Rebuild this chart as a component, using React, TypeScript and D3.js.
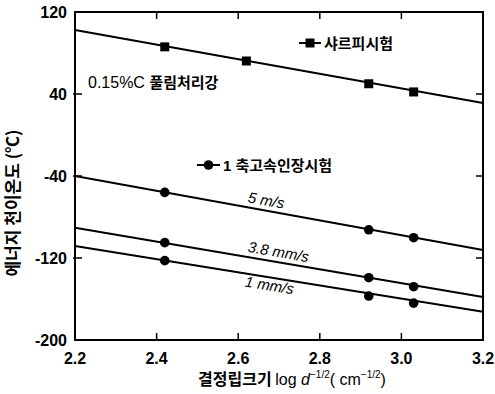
import React from "react";
import * as d3 from "d3";

const xTicks = [2.2, 2.4, 2.6, 2.8, 3.0, 3.2];
const yTicks = [120, 40, -40, -120, -200];
const lineX = [2.2, 3.2];

const charpyX = [2.42, 2.62, 2.92, 3.03];
const charpyY = [86, 72.2, 50, 42];
const charpyLine = [102.4, 31.2];

const tensileX = [2.42, 2.92, 3.03];
const v5Y = [-56, -92.5, -100.2];
const v5Line = [-40, -112.2];
const v38Y = [-105, -139.2, -148];
const v38Line = [-90.4, -158];
const v1Y = [-122.6, -157.1, -164];
const v1Line = [-108.3, -172.4];

const W = 495, H = 394;
const L = 75, R = 483, T = 12, B = 340;
const BOLD = "'Liberation Sans', Arial, sans-serif";
const KR = "'Noto Sans CJK KR', 'Liberation Sans', sans-serif";

export default function App() {
  const x = d3.scaleLinear().domain([2.2, 3.2]).range([L, R]);
  const y = d3.scaleLinear().domain([-200, 120]).range([B, T]);
  const line = d3.line<[number, number]>().x(d => x(d[0])).y(d => y(d[1]));
  const seg = (vals: number[]) => line(lineX.map((v, i) => [v, vals[i]] as [number, number])) || "";
  const ang = (vals: number[]) =>
    (Math.atan2(y(vals[1]) - y(vals[0]), x(lineX[1]) - x(lineX[0])) * 180) / Math.PI;

  const sw = 2;
  const labels: { text: string; vals: number[]; at: number; dy: number }[] = [
    { text: "5 m/s", vals: v5Line, at: 2.62, dy: -5 },
    { text: "3.8 mm/s", vals: v38Line, at: 2.62, dy: -5 },
    { text: "1 mm/s", vals: v1Line, at: 2.62, dy: 13 },
  ];

  return (
    <svg width={W} height={H} style={{ position: "absolute", left: 0, top: 0, background: "#fff" }}>
      <rect x={L} y={T} width={R - L} height={B - T} fill="none" stroke="#000" strokeWidth={2} />
      {xTicks.slice(1, -1).map(t => (
        <g key={"xt" + t}>
          <line x1={x(t)} x2={x(t)} y1={B} y2={B - 7} stroke="#000" strokeWidth={1.5} />
          <line x1={x(t)} x2={x(t)} y1={T} y2={T + 7} stroke="#000" strokeWidth={1.5} />
        </g>
      ))}
      {xTicks.map(t => (
        <text key={"xl" + t} x={x(t)} y={364} textAnchor="middle" fontFamily={BOLD} fontWeight="bold" fontSize={16}>
          {t.toFixed(1)}
        </text>
      ))}
      {yTicks.slice(1, -1).map(t => (
        <g key={"yt" + t}>
          <line x1={L - 2} x2={L + 7} y1={y(t)} y2={y(t)} stroke="#000" strokeWidth={1.5} />
          <line x1={R} x2={R - 7} y1={y(t)} y2={y(t)} stroke="#000" strokeWidth={1.5} />
        </g>
      ))}
      {yTicks.map(t => (
        <text key={"yl" + t} x={67} y={y(t) + 5.5} textAnchor="end" fontFamily={BOLD} fontWeight="bold" fontSize={16}>
          {t < 0 ? "-" + Math.abs(t) : String(t)}
        </text>
      ))}

      {[charpyLine, v5Line, v38Line, v1Line].map((vals, i) => (
        <path key={"ln" + i} d={seg(vals)} fill="none" stroke="#000" strokeWidth={sw} />
      ))}
      {charpyX.map((v, i) => (
        <rect key={"cm" + i} x={x(v) - 4.5} y={y(charpyY[i]) - 4.5} width={9} height={9} fill="#000" />
      ))}
      {[v5Y, v38Y, v1Y].map((arr, j) =>
        tensileX.map((v, i) => <circle key={"tm" + j + "-" + i} cx={x(v)} cy={y(arr[i])} r={4.8} fill="#000" />)
      )}

      {labels.map(lb => {
        const px = x(lb.at);
        const frac = (lb.at - lineX[0]) / (lineX[1] - lineX[0]);
        const py = y(lb.vals[0] + (lb.vals[1] - lb.vals[0]) * frac);
        return (
          <text
            key={lb.text}
            x={px}
            y={py + lb.dy}
            transform={`rotate(${ang(lb.vals)} ${px} ${py})`}
            fontFamily={BOLD}
            fontStyle="italic"
            fontSize={15}
          >
            {lb.text}
          </text>
        );
      })}

      <line x1={299} x2={321} y1={43} y2={43} stroke="#000" strokeWidth={sw} />
      <rect x={305.5} y={38.5} width={9} height={9} fill="#000" />
      <text x={324} y={48.5} fontFamily={KR} fontWeight="bold" fontSize={15}>샤르피시험</text>

      <line x1={197} x2={220} y1={165} y2={165} stroke="#000" strokeWidth={sw} />
      <circle cx={208.5} cy={165} r={4.8} fill="#000" />
      <text x={223} y={170.5} fontFamily={KR} fontWeight="bold" fontSize={15}>
        <tspan fontFamily={BOLD}>1 </tspan>축고속인장시험
      </text>

      <text x={88} y={88} fontFamily={KR} fontWeight="bold" fontSize={15}>
        <tspan fontFamily={BOLD} fontWeight="normal" fontSize={16}>0.15%C </tspan>풀림처리강
      </text>

      <text
        transform={`translate(19 ${203}) rotate(-90)`}
        textAnchor="middle"
        fontFamily={KR}
        fontWeight="bold"
        fontSize={17}
      >
        에너지 천이온도 (℃)
      </text>
      <text x={292} y={385} textAnchor="middle" fontFamily={KR} fontWeight="bold" fontSize={16}>
        결정립크기 <tspan fontFamily={BOLD} fontWeight="normal">log </tspan>
        <tspan fontFamily={BOLD} fontStyle="italic" fontWeight="normal">d</tspan>
        <tspan fontFamily={BOLD} fontWeight="normal" fontSize={10} dy={-7}>−1/2</tspan>
        <tspan dy={7} fontFamily={BOLD} fontWeight="normal">( cm</tspan>
        <tspan fontFamily={BOLD} fontWeight="normal" fontSize={10} dy={-7}>−1/2</tspan>
        <tspan dy={7} fontFamily={BOLD} fontWeight="normal">)</tspan>
      </text>
    </svg>
  );
}
